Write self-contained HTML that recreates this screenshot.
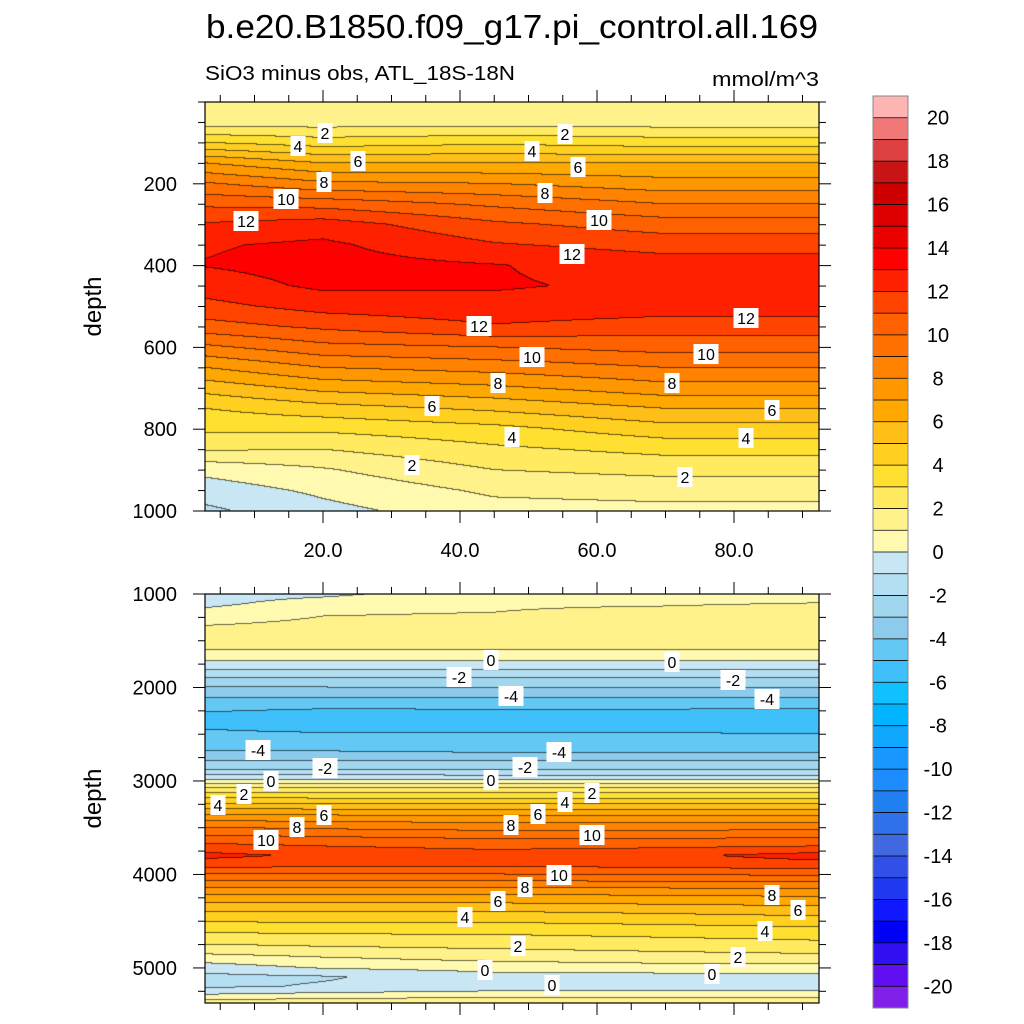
<!DOCTYPE html>
<html><head><meta charset="utf-8">
<style>
body{margin:0;background:#fff;}
#wrap{position:relative;width:1024px;height:1024px;overflow:hidden;font-family:"Liberation Sans",sans-serif;}
canvas{position:absolute;left:0;top:0;}
svg{position:absolute;left:0;top:0;}
</style></head>
<body>
<div id="wrap">
<canvas id="cv" width="1024" height="1024"></canvas>
<svg id="sv" width="1024" height="1024"></svg>
</div>
<script>
// ---- data ----
const colX = [3, 20, 45, 70, 92];
const topDepths = [0,50,100,150,200,250,300,350,400,450,500,550,600,650,700,750,800,850,900,950,1000];
const topCol0 = [1.2,1.4,4.0,7.0,9.1,10.8,12.1,12.9,13.05,12.5,11.7,10.6,8.8,7.0,5.4,4.0,3.2,2.1,0.3,-0.5,-1.2];
const topCol1 = [1.2,1.5,3.5,6.0,8.2,10.6,12.5,13.2,13.4,13.2,12.4,11.2,9.7,8.0,6.3,4.6,3.2,2.0,0.9,0.2,-0.3];
const topCol2 = [1.2,1.5,3.8,6.0,8.0,9.8,11.2,12.1,13.05,13.1,12.7,11.9,10.0,8.4,6.8,5.2,3.7,2.8,2.0,1.2,0.6];
const topCol3 = [1.2,1.5,3.5,6.0,7.4,9.0,10.5,11.6,12.5,12.8,12.5,11.5,10.4,9.0,7.6,6.0,4.6,3.3,2.3,1.4,0.7];
const topCol4 = [1.2,1.5,3.5,6.0,7.4,9.0,10.5,11.6,12.5,12.8,12.5,11.5,10.4,9.0,7.6,6.0,4.6,3.3,2.3,1.4,0.7];
const botDepths = [1000,1100,1200,1400,1600,1700,1800,1900,2000,2100,2200,2300,2400,2500,2600,2700,2800,2900,3000,3100,3200,3300,3400,3500,3600,3700,3800,3900,4000,4100,4200,4400,4600,4800,4900,5000,5100,5200,5300,5375];
const botCol0 = [-0.5,-0.3,0.3,1.3,1.0,0.2,-0.9,-2.0,-3.0,-3.9,-4.6,-5.2,-5.2,-4.8,-4.4,-3.9,-2.9,-1.8,0.3,2.6,4.3,6.0,7.6,9.0,10.2,11.3,12.3,11.4,10.0,8.6,7.2,5.0,3.2,1.6,0.5,-0.5,-1.3,-1.2,0.2,1.5];
const botCol1 = [-0.3,0.5,0.9,1.4,1.0,0.2,-0.9,-2.0,-3.0,-3.9,-4.7,-5.6,-5.6,-4.9,-4.5,-3.9,-2.9,-1.8,0.2,2.5,4.2,5.9,7.5,8.8,10.0,11.0,11.8,11.3,10.0,8.6,7.2,5.0,3.3,1.8,0.9,0.1,-1.1,-0.9,0.4,1.8];
const botCol2 = [0.8,0.9,1.0,1.5,1.0,0.2,-0.9,-2.0,-2.95,-3.9,-4.7,-5.5,-5.7,-4.9,-4.5,-4.0,-2.9,-1.8,0.1,2.5,4.2,5.8,7.4,8.6,9.8,10.7,11.5,11.2,10.0,8.6,7.2,5.0,3.3,2.0,1.3,0.4,-0.4,-0.6,0.6,2.0];
const botCol3 = [0.8,0.9,1.2,1.6,1.0,0.2,-0.9,-2.0,-2.95,-3.9,-4.7,-5.5,-5.7,-4.9,-4.5,-4.0,-2.9,-1.8,0.1,2.5,4.2,5.8,7.4,8.6,9.8,10.8,11.8,11.4,10.1,8.7,7.3,5.2,3.5,2.2,1.5,0.6,-0.4,-0.6,0.6,2.0];
const botCol4 = [0.8,1.0,1.4,1.8,1.0,0.2,-0.9,-2.0,-2.95,-3.9,-4.8,-5.6,-5.8,-5.0,-4.5,-4.0,-2.9,-1.8,0.1,2.5,4.2,5.8,7.4,8.7,9.9,11.0,12.4,11.6,10.2,8.8,7.4,5.4,3.7,2.4,1.6,0.6,-0.3,-0.5,0.6,2.0];
const levelColors = ["#8020e8","#6010f0","#3010f0","#0000f8","#1018ff","#2038f0","#3050e8","#4068e0","#3070e8","#2080f0","#1c8cff","#1898ff","#10a8ff","#00b4ff","#10c0ff","#40c0fa","#64c8f4","#8ccbeb","#a0d6ee","#b4def2","#c8e6f4","#fffab0","#fff28a","#ffea60","#ffe030","#ffd020","#ffbf18","#ffa800","#ff9800","#ff8200","#ff7000","#ff6000","#ff4400","#ff2000","#ff0000","#eb0000","#de0000","#cd0000","#c81414","#dc4040","#f07878","#ffb4b4"];
const cbLabels = [20,18,16,14,12,10,8,6,4,2,0,-2,-4,-6,-8,-10,-12,-14,-16,-18,-20];
const xTicks = [20,40,60,80];
const topYTicks = [200,400,600,800,1000];
const botYTicks = [1000,2000,3000,4000,5000];
const topLabels = [[325,133,"2"],[298,146,"4"],[358,161,"6"],[324,182,"8"],[286,199,"10"],[246,221,"12"],[565,134,"2"],[532,151,"4"],[578,167,"6"],[545,193,"8"],[599,220,"10"],[572,254,"12"],[479,326,"12"],[746,318,"12"],[532,357,"10"],[706,354,"10"],[498,383,"8"],[672,383,"8"],[432,406,"6"],[772,410,"6"],[512,437,"4"],[746,438,"4"],[412,465,"2"],[685,477,"2"]];
const botLabels = [[491,660,"0"],[672,662,"0"],[459,677,"-2"],[733,680,"-2"],[511,696,"-4"],[767,699,"-4"],[258,750,"-4"],[559,752,"-4"],[325,768,"-2"],[525,767,"-2"],[271,781,"0"],[491,780,"0"],[244,794,"2"],[592,793,"2"],[218,805,"4"],[565,802,"4"],[297,827,"8"],[324,815,"6"],[538,814,"6"],[511,825,"8"],[266,840,"10"],[592,835,"10"],[559,875,"10"],[525,887,"8"],[498,901,"6"],[465,917,"4"],[518,946,"2"],[485,970,"0"],[552,985,"0"],[712,974,"0"],[738,957,"2"],[765,931,"4"],[798,910,"6"],[772,895,"8"]];

// ---- geometry ----
const L=205,R=819;
const top1={t:102,b:511,d0:0,d1:1000,cols:[topCol0,topCol1,topCol2,topCol3,topCol4],depths:topDepths};
const top2={t:594,b:1003,d0:1000,d1:5375,cols:[botCol0,botCol1,botCol2,botCol3,botCol4],depths:botDepths};
function xPx(x){return 186+6.85*x;}
function pxX(p){return (p-186)/6.85;}
function yPx(P,d){return P.t+(d-P.d0)/(P.d1-P.d0)*(P.b-P.t);}
function pxD(P,y){return P.d0+(y-P.t)/(P.b-P.t)*(P.d1-P.d0);}
function interp1(arr,xs,v){
  if(v<=xs[0])return arr[0];
  for(let i=1;i<xs.length;i++){if(v<=xs[i]){const f=(v-xs[i-1])/(xs[i]-xs[i-1]);return arr[i-1]+f*(arr[i]-arr[i-1]);}}
  return arr[arr.length-1];
}
function valueAt(P,x,d){
  const colVals=P.cols.map(c=>interp1(c,P.depths,d));
  return interp1(colVals,colX,x);
}
function hex(c){return [parseInt(c.substr(1,2),16),parseInt(c.substr(3,2),16),parseInt(c.substr(5,2),16)];}
const rgb=levelColors.map(hex);
function lev(v){let i=Math.floor(v)+21;return Math.max(0,Math.min(41,i));}

const cv=document.getElementById('cv');const ctx=cv.getContext('2d');
function drawPanel(P){
  const W=R-L,H=P.b-P.t;
  const img=ctx.createImageData(W,H);
  const lv=new Int8Array(W*H);
  for(let j=0;j<H;j++){const d=pxD(P,P.t+j+0.5);
    for(let i=0;i<W;i++){lv[j*W+i]=lev(valueAt(P,pxX(L+i+0.5),d));}}
  for(let j=0;j<H;j++)for(let i=0;i<W;i++){
    const k=j*W+i;let c=rgb[lv[k]];
    let edge=(i<W-1&&lv[k]!==lv[k+1])||(j<H-1&&lv[k]!==lv[k+W]);
    const o=k*4;
    if(edge){img.data[o]=c[0]*0.4;img.data[o+1]=c[1]*0.4;img.data[o+2]=c[2]*0.4;}
    else{img.data[o]=c[0];img.data[o+1]=c[1];img.data[o+2]=c[2];}
    img.data[o+3]=255;}
  ctx.putImageData(img,L,P.t);
}
drawPanel(top1);drawPanel(top2);

// ---- svg overlay ----
const NS="http://www.w3.org/2000/svg";const sv=document.getElementById('sv');
function el(tag,attrs,parent){const e=document.createElementNS(NS,tag);for(const k in attrs)e.setAttribute(k,attrs[k]);(parent||sv).appendChild(e);return e;}
function txt(x,y,s,size,anchor,parent){const t=el('text',{x:x,y:y,'font-size':size,'text-anchor':anchor||'middle','font-family':'Liberation Sans, sans-serif',fill:'#000'},parent);t.textContent=s;return t;}

let t=txt(512,38,"b.e20.B1850.f09_g17.pi_control.all.169",33,'middle');
t.setAttribute('textLength','612');t.setAttribute('lengthAdjust','spacingAndGlyphs');


t=txt(205,80,"SiO3 minus obs, ATL_18S-18N",20,'start');
t.setAttribute('textLength','310');t.setAttribute('lengthAdjust','spacingAndGlyphs');


t=txt(819,86,"mmol/m^3",20,'end');
t.setAttribute('textLength','107');t.setAttribute('lengthAdjust','spacingAndGlyphs');



function axes(P,name,yTicks,showXLabels){
  const g=el('g',{});
  
  
  el('rect',{x:L,y:P.t,width:R-L,height:P.b-P.t,fill:'none',stroke:'#000','stroke-width':1.2},g);
  for(let x=5;x<=90;x+=5){const px=xPx(x);const major=(x%20===0);const len=major?12:7;
    el('line',{x1:px,y1:P.b,x2:px,y2:P.b+len,stroke:'#000','stroke-width':1},g);
    el('line',{x1:px,y1:P.t,x2:px,y2:P.t-len,stroke:'#000','stroke-width':1},g);}
  const step=(P.d1-P.d0)>2000?250:50;
  for(let d=Math.ceil(P.d0/step)*step;d<=P.d1;d+=step){const py=yPx(P,d);const major=yTicks.indexOf(d)>=0;const len=major?12:7;
    el('line',{x1:L,y1:py,x2:L-len,y2:py,stroke:'#000','stroke-width':1},g);
    el('line',{x1:R,y1:py,x2:R+len,y2:py,stroke:'#000','stroke-width':1},g);}
  yTicks.forEach(d=>{const lt=txt(177,yPx(P,d)+7,String(d),20,'end',g);
    
    });
  if(showXLabels)xTicks.forEach(x=>{const lt=txt(xPx(x),557,x.toFixed(1),20,'middle',g);
    
    });
  const yl=txt(0,0,"depth",24,'middle',g);
  yl.setAttribute('transform','translate(101,'+((P.t+P.b)/2)+') rotate(-90)');
  
  
}
axes(top1,'top-panel-axes',topYTicks,true);
axes(top2,'bottom-panel-axes',botYTicks,false);

function labels(arr,name){arr.forEach(a=>{
  const w=a[2].length*10+5;
  const r=el('rect',{x:a[0]-w/2,y:a[1]-10,width:w,height:20,fill:'#fff'});
  
  
  const lt=txt(a[0],a[1]+6,a[2],16,'middle');
  
  });}
labels(topLabels,'top-contour-label');labels(botLabels,'bottom-contour-label');

// colorbar
const cb=el('g',{});


const cbT=96,cbB=1008,cbL=873,cbW=35,n=levelColors.length,bh=(cbB-cbT)/n;
for(let i=0;i<n;i++){const r=el('rect',{x:cbL,y:cbT+i*bh,width:cbW,height:bh+0.5,fill:levelColors[n-1-i]},cb);
  
  
  if(i>0)el('line',{x1:cbL,y1:cbT+i*bh,x2:cbL+cbW,y2:cbT+i*bh,stroke:'#000','stroke-width':0.8},cb);}
el('rect',{x:cbL,y:cbT,width:cbW,height:cbB-cbT,fill:'none',stroke:'#888','stroke-width':1},cb);
cbLabels.forEach(v=>{const y=cbT+(21-v)*bh;const lt=txt(938,y+7,String(v),20,'middle',cb);
  
  });
</script>
</body></html>
